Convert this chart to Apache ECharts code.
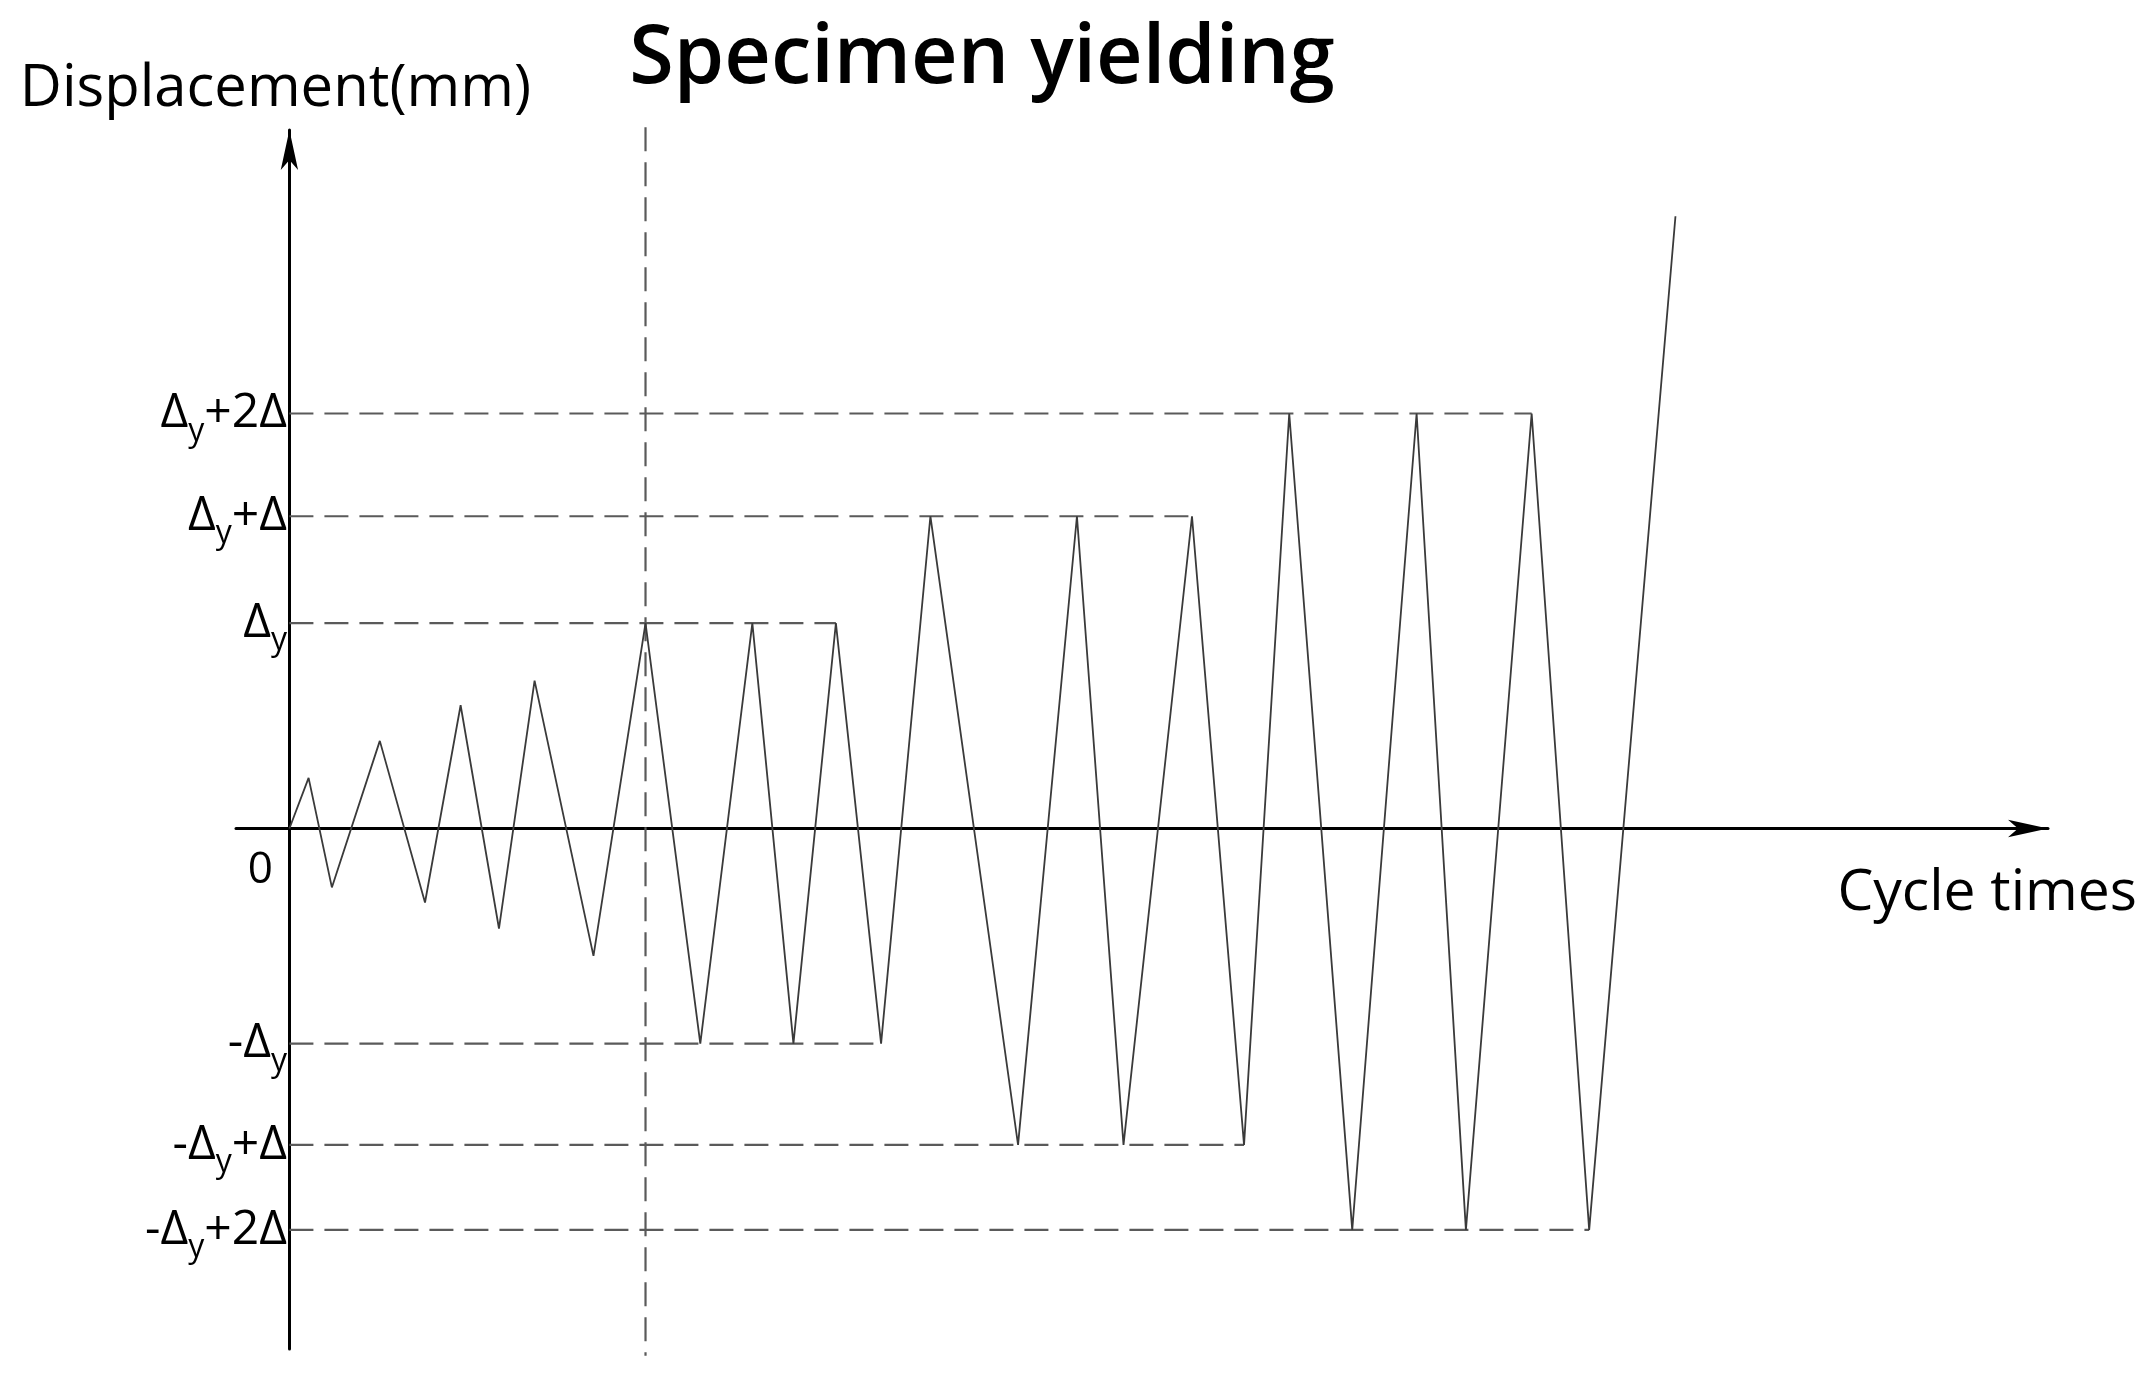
<!DOCTYPE html>
<html><head><meta charset="utf-8">
<script src="https://cdn.jsdelivr.net/npm/echarts@6/dist/echarts.min.js"></script>
<style>html,body{margin:0;padding:0;background:#fff}#c{width:2148px;height:1381px}</style>
</head><body><div id="c"></div>
<script>
// Loading history (time units, displacement units)
const cycleX = [0, 14, 31, 66, 99, 125, 153, 179, 222, 260, 300, 338, 368, 399, 432, 468, 532, 575, 609, 659, 697, 730, 776, 823, 859, 907, 949, 1012];
const displacement = [0, 37, -43, 64, -54, 90, -73, 108, -93, 150, -157, 150, -157, 150, -157, 228, -231, 228, -231, 228, -231, 303, -293, 303, -293, 303, -293, 447];
// Reference levels (dashed lines) and where they stop
const levelValues = [303, 228, 150, -157, -231, -293];
const levelEndX = [907, 659, 399, 432, 697, 949];
const levelLabels = ['{d|Δ}{s|y}{d|+2Δ}', '{d|Δ}{s|y}{d|+Δ}', '{d|Δ}{s|y}', '{d|-Δ}{s|y}', '{d|-Δ}{s|y}{d|+Δ}', '{d|-Δ}{s|y}{d|+2Δ}'];
const yieldX = 260;
const xRange = [-39, 1284];
const yRange = [-380, 510];

const chart = echarts.init(document.getElementById('c'));
const dash = { color: '#5a5a5a', width: 2.2, type: [24, 11] };
const series = [{
  type: 'line', data: cycleX.map((x, i) => [x, displacement[i]]),
  symbol: 'none', lineStyle: { color: '#3a3a3a', width: 1.8 }, z: 5, clip: false
}];
levelValues.forEach((v, i) => {
  series.push({ type: 'line', data: [[0, v], [levelEndX[i], v]], symbol: 'none', lineStyle: dash, z: 3 });
});
series.push({ type: 'line', data: [[yieldX, yRange[1] + 2], [yieldX, yRange[0] - 5]], symbol: 'none', clip: false,
  lineStyle: dash, z: 3 });

const labelMap = {};
levelValues.forEach((v, i) => labelMap[v] = levelLabels[i]);
labelMap[0] = '{z|0}';

chart.setOption({
  backgroundColor: '#fff',
  animation: false,
  title: { text: 'Specimen yielding', left: 977, top: 14, textAlign: 'center',
    textStyle: { fontFamily: 'Open Sans', fontWeight: 600, fontSize: 81, color: '#000' } },
  grid: { left: 236, right: 100, top: 130, bottom: 32 },
  xAxis: { type: 'value', min: xRange[0], max: xRange[1],
    name: 'Cycle times', nameLocation: 'end', nameGap: 89,
    nameTextStyle: { fontFamily: 'Open Sans', fontSize: 57, color: '#000', align: 'right', verticalAlign: 'top', padding: [37, 0, 0, 0] },
    axisLine: { onZero: true, lineStyle: { color: '#000', width: 3 }, symbol: ['none', 'arrow'], symbolSize: [13, 40] },
    axisTick: { show: false }, axisLabel: { show: false }, splitLine: { show: false } },
  yAxis: { type: 'value', min: yRange[0], max: yRange[1],
    name: 'Displacement(mm)', nameLocation: 'end', nameGap: 12,
    nameTextStyle: { fontFamily: 'Open Sans', fontSize: 58, color: '#000', padding: [0, 28, 0, 0] },
    axisLine: { onZero: true, lineStyle: { color: '#000', width: 3 }, symbol: ['none', 'arrow'], symbolSize: [13, 40] },
    axisTick: { show: false }, splitLine: { show: false },
    axisLabel: { customValues: [303, 228, 150, 0, -157, -231, -293], margin: -51,
      formatter: v => labelMap[v] || '',
      rich: {
        d: { fontFamily: 'Open Sans', fontSize: 48, color: '#000', verticalAlign: 'top', lineHeight: 48 },
        s: { fontFamily: 'Open Sans', fontSize: 32, color: '#000', verticalAlign: 'top', lineHeight: 32, padding: [26, 0, 0, 0] },
        z: { fontFamily: 'Open Sans', fontSize: 44, color: '#000', padding: [84, 14, 0, 0] }
      } } },
  series: series
});
</script></body></html>
